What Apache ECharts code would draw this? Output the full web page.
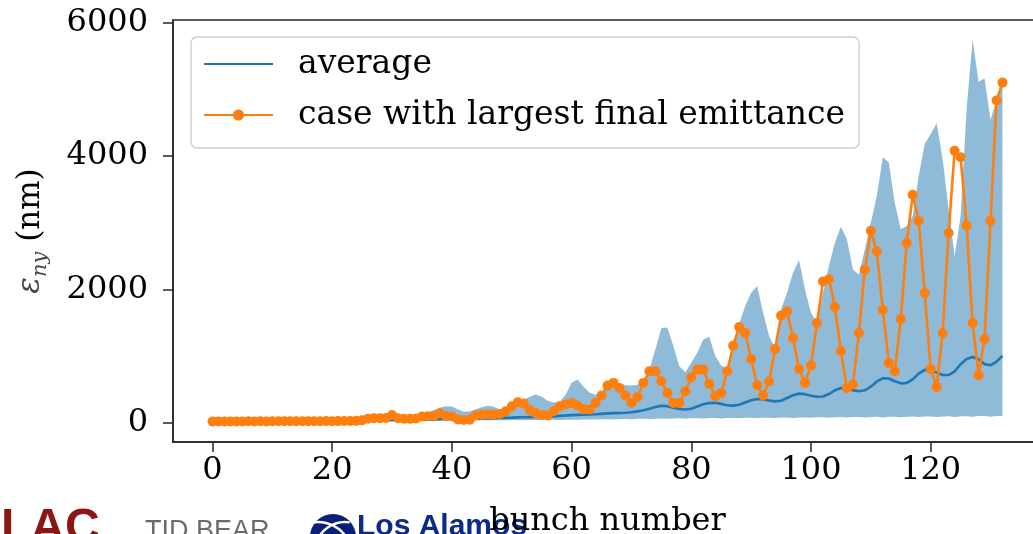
<!DOCTYPE html>
<html>
<head>
<meta charset="utf-8">
<script src="https://cdn.jsdelivr.net/npm/echarts@6/dist/echarts.min.js"></script>
<style>
  html, body { margin: 0; padding: 0; background: #ffffff; }
  #chart { width: 1033px; height: 534px; }
</style>
</head>
<body>
<div id="chart"></div>
<script>
// Bunch numbers along the train (0 .. 132)
const bunch = Array.from({ length: 133 }, (_, k) => k);

// Mean normalised vertical emittance over all cases (nm)
const averageEmit = [
  20, 20, 21, 21, 21, 22, 22, 22, 23, 23, 23, 24, 24, 25, 25, 26, 26, 27, 27, 28,
  28, 29, 30, 31, 32, 33, 35, 36, 38, 39, 41, 42, 43, 45, 46, 48, 50, 52, 55, 57,
  58, 59, 60, 62, 64, 66, 68, 70, 72, 75, 78, 82, 85, 86, 87, 89, 92, 97, 104, 110,
  116, 120, 122, 124, 128, 135, 142, 146, 148, 152, 160, 172, 188, 210, 238, 255, 250, 228, 208, 200,
  212, 245, 278, 296, 300, 284, 264, 258, 272, 306, 340, 358, 354, 334, 322, 332, 372, 414, 438, 430,
  406, 390, 394, 432, 488, 522, 514, 490, 474, 488, 542, 620, 668, 664, 624, 592, 598, 652, 738, 794,
  788, 752, 716, 716, 772, 878, 958, 988, 952, 880, 862, 918, 1004
];

// Case with the largest final emittance (nm)
const worstCase = [
  22, 21, 22, 21, 22, 22, 23, 22, 23, 22, 23, 23, 24, 23, 24, 24, 25, 24, 25, 26,
  25, 26, 27, 28, 30, 38, 62, 68, 70, 74, 118, 70, 62, 60, 66, 96, 100, 104, 142, 104,
  96, 52, 42, 46, 112, 122, 128, 126, 134, 172, 248, 310, 290, 192, 146, 118, 110, 175, 250, 274,
  299, 259, 209, 199, 299, 409, 558, 599, 524, 409, 299, 384, 599, 773, 773, 623, 449, 299, 299, 474,
  683, 798, 798, 584, 399, 449, 773, 1157, 1437, 1347, 958, 563, 409, 623, 1108, 1607, 1671, 1272, 808, 599,
  858, 1497, 2120, 2156, 1736, 1073, 524, 574, 1347, 2295, 2879, 2569, 1696, 898, 773, 1557, 2695, 3418, 3028, 1946,
  808, 539, 1347, 2844, 4076, 3982, 2959, 1497, 713, 1257, 3028, 4830, 5099
];

// Spread of all cases: lower and upper edge of the shaded band (nm)
const bandLow = [
  14, 14, 15, 14, 15, 15, 16, 15, 16, 16, 16, 17, 16, 17, 17, 18, 17, 18, 18, 19,
  18, 19, 19, 20, 20, 22, 24, 25, 26, 26, 28, 27, 29, 30, 29, 31, 32, 31, 33, 34,
  33, 35, 36, 35, 37, 38, 37, 39, 40, 39, 41, 42, 40, 43, 44, 42, 45, 46, 44, 47,
  48, 46, 50, 52, 49, 53, 55, 52, 56, 58, 55, 60, 62, 58, 63, 65, 61, 66, 68, 63,
  69, 70, 66, 71, 72, 67, 73, 74, 69, 75, 76, 71, 77, 78, 72, 79, 80, 74, 81, 82,
  76, 83, 84, 78, 85, 86, 79, 87, 88, 81, 89, 90, 82, 91, 92, 84, 93, 94, 86, 95,
  96, 87, 97, 98, 89, 99, 100, 90, 101, 102, 92, 103, 104
];
const bandHigh = [
  26, 27, 27, 28, 28, 29, 29, 30, 30, 31, 31, 32, 33, 33, 34, 35, 36, 37, 38, 39,
  41, 43, 46, 50, 55, 62, 78, 84, 88, 94, 128, 98, 90, 96, 108, 122, 150, 192, 228, 250,
  246, 205, 165, 170, 205, 232, 256, 240, 200, 212, 275, 322, 345, 392, 425, 392, 330, 305, 312, 420,
  600, 650, 540, 450, 420, 450, 570, 610, 590, 565, 560, 570, 640, 800, 1100, 1420, 1430, 1150, 850, 760,
  900, 1050, 1250, 1290, 1000, 860, 810, 1200, 1480, 1750, 1950, 2050, 1650, 1300, 1120, 1700, 1950, 2250, 2440, 2000,
  1650, 1500, 1950, 2350, 2700, 2940, 2750, 2300, 2220, 2600, 3000, 3400, 3980, 3900, 3300, 2900, 2950, 3100, 3700, 4180,
  4330, 4490, 3950, 3200, 2500, 3100, 4700, 5740, 5110, 5160, 4540, 4850, 5100
];

// Tick positions
const xTicks = [0, 20, 40, 60, 80, 100, 120];
const yTicks = [0, 2000, 4000, 6000];

const serif = 'DejaVu Serif';
const spine = '#262626';

const chart = echarts.init(document.getElementById('chart'), null, { renderer: 'canvas' });

chart.setOption({
  animation: false,
  backgroundColor: '#ffffff',
  grid: {
    left: 173, top: 20, width: 869, height: 422,
    show: true, borderColor: spine, borderWidth: 1.5,
    backgroundColor: 'transparent',
    containLabel: false, outerBoundsMode: 'none'
  },
  xAxis: {
    type: 'value', min: -6.6, max: 138.6,
    axisLine: { show: true, onZero: false, lineStyle: { color: spine, width: 1.5 } },
    axisTick: { show: true, inside: false, length: 10, customValues: xTicks,
                lineStyle: { color: spine, width: 1.5 } },
    axisLabel: { customValues: xTicks, margin: 13, color: '#000',
                 fontFamily: serif, fontSize: 32,
                 formatter: (v) => String(v) },
    splitLine: { show: false },
    name: 'bunch number', nameLocation: 'middle', nameGap: 64,
    nameTextStyle: { color: '#000', fontFamily: serif, fontSize: 32 }
  },
  yAxis: {
    type: 'value', min: -287, max: 6037,
    axisLine: { show: true, onZero: false, lineStyle: { color: spine, width: 1.5 } },
    axisTick: { show: true, inside: false, length: 10, customValues: yTicks,
                lineStyle: { color: spine, width: 1.5 } },
    axisLabel: { customValues: yTicks, margin: 25, color: '#000',
                 fontFamily: serif, fontSize: 32,
                 formatter: (v) => String(v) },
    splitLine: { show: false },
    name: '{e|ε}{s|ny} (nm)', nameLocation: 'middle', nameGap: 122, nameRotate: 90,
    nameTextStyle: {
      color: '#000', fontFamily: serif, fontSize: 31, lineHeight: 40,
      rich: {
        e: { fontFamily: serif, fontStyle: 'italic', fontSize: 31, lineHeight: 40, color: '#444' },
        s: { fontFamily: serif, fontStyle: 'italic', fontSize: 21, lineHeight: 21,
             verticalAlign: 'bottom', color: '#444' }
      }
    }
  },
  legend: {
    data: [
      { name: 'average', itemStyle: { opacity: 0 } },
      { name: 'case with largest final emittance' }
    ],
    orient: 'vertical', left: 191, top: 37,
    padding: [9, 14, 15, 12], itemGap: 15,
    itemWidth: 69, itemHeight: 14,
    backgroundColor: 'rgba(255,255,255,0.85)',
    borderColor: '#d0d0d0', borderWidth: 1.5, borderRadius: 6,
    textStyle: { color: '#000', fontFamily: serif, fontSize: 33, lineHeight: 36,
                 padding: [0, 0, 0, 20] },
    z: 20
  },
  graphic: [
    { type: 'text', left: 1, top: 505, z: -10, silent: true,
      style: { text: 'LAC', fill: '#8c1515', font: 'bold 48px "Liberation Sans"' } },
    { type: 'text', left: 145, top: 518, z: -10, silent: true,
      style: { text: 'TID BEAR', fill: '#6b6b6b', font: '27px "Liberation Sans"' } },
    { type: 'circle', z: -10, silent: true, shape: { cx: 333, cy: 537, r: 23 },
      style: { fill: '#0b1f78' } },
    { type: 'arc', z: -9, silent: true,
      shape: { cx: 345, cy: 552, r: 30, startAngle: Math.PI * 1.05, endAngle: Math.PI * 1.55 },
      style: { stroke: '#ffffff', lineWidth: 2.5, fill: null } },
    { type: 'arc', z: -9, silent: true,
      shape: { cx: 318, cy: 556, r: 34, startAngle: Math.PI * 1.45, endAngle: Math.PI * 1.85 },
      style: { stroke: '#ffffff', lineWidth: 2.5, fill: null } },
    { type: 'text', left: 357, top: 512, z: -10, silent: true,
      style: { text: 'Los Alamos', fill: '#0b2a8a', font: 'bold 30px "Liberation Sans"' } }
  ],
  series: [
    {
      name: 'spread', type: 'custom', silent: true, z: 1, clip: true,
      data: bunch.map((b, k) => [b, bandLow[k], bandHigh[k]]),
      encode: { x: 0, y: [1, 2] },
      renderItem: function (params, api) {
        if (params.dataIndex !== 0) return null;
        const pts = [];
        for (let k = 0; k < bunch.length; k++) pts.push(api.coord([bunch[k], bandHigh[k]]));
        for (let k = bunch.length - 1; k >= 0; k--) pts.push(api.coord([bunch[k], bandLow[k]]));
        return {
          type: 'polygon',
          shape: { points: pts },
          style: { fill: 'rgba(31,119,180,0.5)', stroke: null }
        };
      }
    },
    {
      name: 'average', type: 'line', z: 3,
      data: bunch.map((b, k) => [b, averageEmit[k]]),
      symbol: 'none', showSymbol: false,
      lineStyle: { color: '#1f77b4', width: 2.6 },
      itemStyle: { color: '#1f77b4' }
    },
    {
      name: 'case with largest final emittance', type: 'line', z: 4,
      data: bunch.map((b, k) => [b, worstCase[k]]),
      symbol: 'circle', symbolSize: 10, showSymbol: true,
      lineStyle: { color: '#ff7f0e', width: 2.6 },
      itemStyle: { color: '#ff7f0e' }
    }
  ]
});
</script>
</body>
</html>
